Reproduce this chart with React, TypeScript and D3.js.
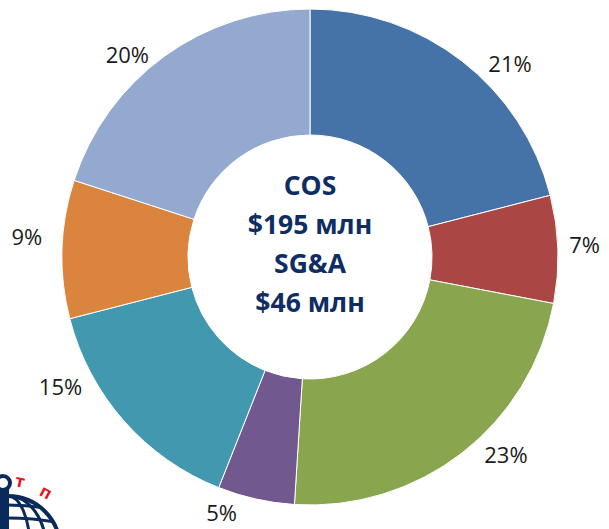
import * as d3 from "d3";

const categories = ["A", "B", "C", "D", "E", "F", "G"];
const shares = [21, 7, 23, 5, 15, 9, 20];
const colors = ["#4572A7", "#AA4643", "#89A54E", "#71588F", "#4198AF", "#DB843D", "#93A9CF"];
const centerLines = ["COS", "$195 млн", "SG&A", "$46 млн"];

// Excel places the labels a little away from the slice midpoints
const labelNudgeDeg = [8, -1, -7, 6.5, 14, 2.5, -6];
const labelRadius = [279, 275, 278, 270, 281, 284, 273];

const W = 609;
const H = 529;
const cx = 310;
const cy = 257;
const outerR = 248;
const innerR = 122;

export default function App() {
  const pie = d3
    .pie<number>()
    .value((d) => d)
    .sort(null);
  const arcs = pie(shares);
  const arc = d3.arc<d3.PieArcDatum<number>>().innerRadius(innerR).outerRadius(outerR);

  return (
    <svg
      width={W}
      height={H}
      style={{ position: "absolute", left: 0, top: 0, background: "#fff" }}
      fontFamily="'Open Sans', sans-serif"
    >
      <g transform={`translate(${cx},${cy})`}>
        {arcs.map((a, i) => (
          <path key={categories[i]} d={arc(a) ?? ""} fill={colors[i]} stroke="#fff" strokeWidth={1} />
        ))}
        {arcs.map((a, i) => {
          const mid = (a.startAngle + a.endAngle) / 2 + (labelNudgeDeg[i] * Math.PI) / 180;
          const x = Math.sin(mid) * labelRadius[i];
          const y = -Math.cos(mid) * labelRadius[i];
          return (
            <text
              key={`l${i}`}
              x={x}
              y={y}
              textAnchor="middle"
              dominantBaseline="central"
              fontSize={22}
              fill="#1a1a1a"
            >
              {shares[i]}%
            </text>
          );
        })}
        {centerLines.map((t, i) => (
          <text
            key={t}
            x={0}
            y={(i - 1.5) * 39 - 14}
            textAnchor="middle"
            dominantBaseline="central"
            fontSize={26.5}
            fontWeight={700}
            fill="#0F2D62"
          >
            {t}
          </text>
        ))}
      </g>
      <g>
        <clipPath id="globe">
          <circle cx={8} cy={548} r={52} />
        </clipPath>
        <circle cx={8} cy={548} r={52} fill="none" stroke="#0B2A5C" strokeWidth={4} />
        <g clipPath="url(#globe)" fill="none" stroke="#0B2A5C" strokeWidth={3}>
          <ellipse cx={8} cy={548} rx={22} ry={52} />
          <ellipse cx={8} cy={548} rx={38} ry={52} />
          <path d="M-50,512 Q8,498 66,512" />
          <path d="M-50,524 Q8,512 66,524" />
        </g>
        <rect x={0} y={486} width={9} height={43} fill="#0B2A5C" />
        <circle cx={3} cy={483} r={7} fill="#fff" stroke="#0B2A5C" strokeWidth={4} />
        <text x={20} y={487} fontSize={17} fontWeight={700} fill="#E3151A" textAnchor="middle" transform="rotate(12,20,481)">
          т
        </text>
        <text x={46} y={498} fontSize={17} fontWeight={700} fill="#E3151A" textAnchor="middle" transform="rotate(28,46,492)">
          п
        </text>
      </g>
    </svg>
  );
}
